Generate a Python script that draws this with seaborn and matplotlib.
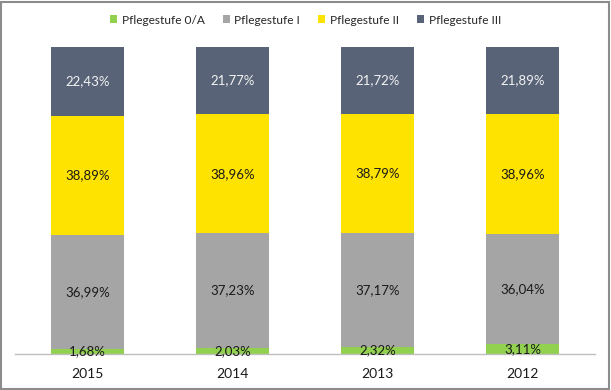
import numpy as np
import pandas as pd
import seaborn as sns
import matplotlib.pyplot as plt
from matplotlib.patches import Patch, Rectangle

# Data
years = ['2015', '2014', '2013', '2012']
stufe_0a = [1.68, 2.03, 2.32, 3.11]
stufe_1 = [36.99, 37.23, 37.17, 36.04]
stufe_2 = [38.89, 38.96, 38.79, 38.96]
stufe_3 = [22.43, 21.77, 21.72, 21.89]
series_names = ['Pflegestufe 0/A', 'Pflegestufe I', 'Pflegestufe II', 'Pflegestufe III']

colors = ['#92D050', '#A5A5A5', '#FFE300', '#586378']
text_colors = ['#1a1a1a', '#1a1a1a', '#1a1a1a', '#F2F2F2']

sns.set_style('white')
plt.rcParams['font.family'] = ['Lato', 'DejaVu Sans']

fig = plt.figure(figsize=(6.11, 3.9), dpi=100)
ax = fig.add_axes([15 / 611, 36 / 390, 580 / 611, 307 / 390])

df = pd.DataFrame({'year': years})
bottom = np.zeros(len(years))
for name, vals, col, tcol in zip(series_names, [stufe_0a, stufe_1, stufe_2, stufe_3], colors, text_colors):
    df['value'] = vals
    sns.barplot(data=df, x='year', y='value', color=col, width=0.51,
                bottom=bottom, ax=ax, saturation=1, linewidth=0)
    cont = ax.containers[-1]
    labels = [f'{v:.2f}%'.replace('.', ',') for v in vals]
    ax.bar_label(cont, labels=labels, label_type='center', color=tcol, fontsize=9.5)
    bottom = bottom + np.array(vals)

ax.set_ylim(0, 100)
ax.set_xlim(-0.5, 3.5)
ax.set_xlabel('')
ax.set_ylabel('')
ax.set_yticks([])
for s in ['top', 'right', 'left']:
    ax.spines[s].set_visible(False)
ax.spines['bottom'].set_color('#BFBFBF')
ax.spines['bottom'].set_linewidth(1)
ax.tick_params(axis='x', length=0, pad=10, labelsize=10, labelcolor='#1a1a1a')

handles = [Patch(facecolor=c, edgecolor='none') for c in colors]
leg = fig.legend(handles, series_names, loc='center', ncol=4,
                 frameon=False, fontsize=8.6, handlelength=0.6, handleheight=0.6,
                 handletextpad=0.4, columnspacing=1.5)
leg.set_bbox_to_anchor((0.5, 1 - 20 / 390), transform=fig.transFigure)

fig.patches.append(Rectangle((0.002, 0.003), 0.995, 0.993, transform=fig.transFigure,
                             fill=False, edgecolor='#8C8C8C', linewidth=1.5))

fig.savefig('out.png', dpi=100)
